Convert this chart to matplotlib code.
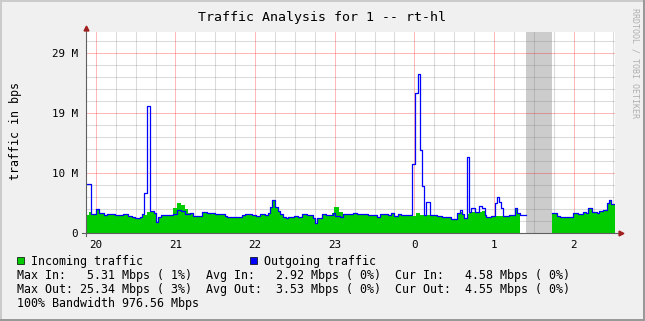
import numpy as np
import matplotlib
matplotlib.use('Agg')
import matplotlib.pyplot as plt
from matplotlib.lines import Line2D

# time axis in minutes relative to midnight (negative = previous evening)
t_start, t_end = -247.4, 151.2

hour_ticks = [-240, -180, -120, -60, 0, 60, 120]
hour_labels = ['20', '21', '22', '23', '0', '1', '2']

# y gridlines are at 10e6 / 20e6 / 30e6 bits, shown in Mbps (1024 base)
y_ticks = [0, 9.5367, 19.0735, 28.6102]
y_labels = ['0', '10 M', '19 M', '29 M']

# outgoing traffic (Mbps), step changes
out_t = [-248, -243.5, -239.5, -237.5, -233.5, -231.5, -225.5, -219.5, -215.5, -212.5,
         -210.5, -207, -205.5, -203.5, -201.5, -199.5, -196.5, -195, -193, -191,
         -181.5, -179, -175.5, -173, -169, -166.5, -160, -156.5, -150, -143,
         -141, -129.5, -127.5, -122, -119.5, -116, -112.5, -110.5, -108.5, -107.5,
         -105, -103, -101, -99, -97, -95.5, -91, -88, -84.5, -81,
         -76.5, -74.5, -73, -69.5, -66.5, -61.5, -59.5, -56, -54, -46,
         -43.5, -38.5, -35, -28.5, -26, -23.5, -20, -17.5, -15, -12.5,
         -10, -2, 0.5, 2.5, 4.5, 5.5, 7, 9, 11.5, 17,
         20.5, 28, 32.5, 34.5, 36, 37.5, 39.5, 41.5, 42.5, 45.5,
         49, 51, 53, 54, 58, 61, 62, 64, 65.5, 67,
         71, 76, 77.5, 79.5, 84.5, 104, 107.5, 109.5, 112.5, 119.5,
         121, 123.5, 127, 129.5, 131, 133.5, 137.5, 139.5, 142.5, 145,
         147, 148.5]
out_mbps = [7.74, 2.97, 3.76, 3.23, 2.86, 3.02, 2.86, 2.97, 2.75, 2.6,
            2.38, 2.6, 2.97, 6.41, 20.2, 3.45, 3.13, 1.8, 2.49, 2.86,
            3.02, 3.66, 3.45, 3.02, 3.23, 2.7, 3.29, 3.13, 2.97, 2.7,
            2.6, 2.91, 3.07, 2.81, 2.7, 3.07, 2.86, 3.23, 4.19, 5.25,
            4.19, 3.5, 2.97, 2.6, 2.33, 2.6, 2.7, 2.6, 2.97, 2.86,
            2.33, 1.64, 2.33, 2.97, 2.86, 3.13, 2.7, 2.6, 2.97, 3.13,
            2.97, 3.02, 2.91, 2.6, 2.97, 3.07, 2.86, 3.13, 2.7, 2.97,
            2.91, 10.92, 22.2, 25.34, 13.2, 7.52, 2.86, 4.88, 2.86, 2.75,
            2.6, 2.17, 3.13, 3.66, 2.97, 2.33, 12.1, 3.39, 3.92, 3.39,
            4.35, 3.92, 2.86, 2.49, 2.7, 4.72, 5.78, 4.98, 3.92, 2.7,
            2.86, 3.92, 3.23, 2.86, np.nan, 3.23, 2.7, 2.49, 2.6, 3.23,
            3.13, 3.02, 3.39, 3.13, 3.92, 3.39, 3.13, 3.55, 3.66, 4.72,
            5.25, 4.55]

# incoming traffic (Mbps), step changes
in_t = [-248, -245.5, -243.5, -239.5, -237.5, -233.5, -231.5, -225.5, -219.5, -215.5,
        -212.5, -210.5, -207, -205.5, -201.5, -196.5, -195, -193, -191, -181.5,
        -179, -175.5, -173, -170.5, -166.5, -160, -156.5, -150, -143, -141,
        -129.5, -127.5, -122, -119.5, -116, -112.5, -110.5, -108.5, -107.5, -105,
        -103, -101, -99, -97, -95.5, -91, -88, -84.5, -81, -76.5,
        -74.5, -73, -69.5, -66.5, -62, -60.5, -56.5, -54, -46, -43.5,
        -38.5, -35, -28.5, -26, -23.5, -20, -17.5, -15, -12.5, -10,
        -2, 1, 4.5, 17, 20.5, 28, 32.5, 34.5, 36, 37.5,
        39.5, 41.5, 42.5, 45.5, 49, 51, 53, 54, 58, 61,
        67, 71, 76, 77.5, 79.5, 84.5, 104, 107.5, 109.5, 112.5,
        119.5, 121, 123.5, 127, 129.5, 131, 133.5, 137.5, 139.5, 142.5,
        145, 147, 148.5]
in_mbps = [2.86, 3.39, 2.97, 3.66, 3.18, 2.86, 3.02, 2.86, 2.92, 2.7,
           2.55, 2.38, 2.55, 2.92, 3.29, 3.07, 1.8, 2.49, 2.86, 3.92,
           4.72, 4.45, 3.76, 3.18, 2.7, 3.23, 3.07, 2.92, 2.65, 2.55,
           2.86, 3.02, 2.75, 2.65, 3.02, 2.81, 3.18, 4.13, 5.2, 4.13,
           3.45, 2.92, 2.55, 2.3, 2.55, 2.65, 2.55, 2.92, 2.81, 2.3,
           1.64, 2.3, 2.92, 2.81, 3.1, 4.08, 3.39, 2.92, 3.07, 2.92,
           2.97, 2.86, 2.55, 2.92, 3.02, 2.81, 3.07, 2.65, 2.92, 2.86,
           2.7, 3.13, 2.86, 2.7, 2.55, 2.17, 3.02, 3.39, 2.92, 2.33,
           2.97, 3.18, 3.3, 3.18, 3.4, 3.5, 2.86, 2.49, 2.7, 2.75,
           2.7, 2.86, 3.92, 3.23, 2.86, np.nan, 3.18, 2.65, 2.45, 2.55,
           3.18, 3.07, 2.97, 3.34, 3.07, 3.87, 3.34, 3.07, 3.5, 3.6,
           4.66, 5.31, 4.58]

# unknown data period
gap_start, gap_end = 84.5, 104

legend_rows = [
    'Max In:   5.31 Mbps ( 1%)  Avg In:   2.92 Mbps ( 0%)  Cur In:   4.58 Mbps ( 0%)',
    'Max Out: 25.34 Mbps ( 3%)  Avg Out:  3.53 Mbps ( 0%)  Cur Out:  4.55 Mbps ( 0%)',
    '100% Bandwidth 976.56 Mbps',
]


def step_series(t, v):
    t = np.append(np.asarray(t, dtype=float), t_end)
    v = np.asarray(v, dtype=float)
    return t, np.append(v, v[-1])


W, H = 645, 321
plt.rcParams['font.family'] = ['DejaVu Sans Mono']
fig = plt.figure(figsize=(W / 100, H / 100), dpi=100, facecolor='#F0F0F0')

L, R, T, B = 86, 615, 32, 233
ax = fig.add_axes([L / W, 1 - B / H, (R - L) / W, (B - T) / H])
ax.set_facecolor('white')
ax.set_xlim(t_start, t_end)
ax.set_ylim(0, (B - T) * 9.5367 / 60)

# grid
minor_col = (0.5, 0.5, 0.5, 0.28)
major_col = (1.0, 0.0, 0.0, 0.28)
for m in np.arange(-240, t_end, 15):
    if m % 60 != 0:
        ax.axvline(m, color=minor_col, lw=0.75, zorder=1)
for y in np.arange(1, 17) * 1.90735:
    if abs(y / 9.5367 - round(y / 9.5367)) > 0.01:
        ax.axhline(y, color=minor_col, lw=0.75, zorder=1)
for m in hour_ticks:
    ax.axvline(m, color=major_col, lw=0.75, zorder=1)
for y in y_ticks[1:]:
    ax.axhline(y, color=major_col, lw=0.75, zorder=1)

ax.axvspan(gap_start, gap_end, color='#CCCCCC', lw=0, zorder=0.5)

ti, vi = step_series(in_t, in_mbps)
to, vo = step_series(out_t, out_mbps)
ax.fill_between(ti, vi, step='post', color='#00CC00', lw=0, zorder=2)
ax.step(to, vo, where='post', color='#0000FF', lw=0.9, zorder=3)

for s in ax.spines.values():
    s.set_visible(False)

ax.set_xticks(hour_ticks)
ax.set_xticklabels(hour_labels, fontsize=7.8)
ax.set_yticks(y_ticks)
ax.set_yticklabels(y_labels, fontsize=7.8)
ax.tick_params(length=0, pad=5)
ax.tick_params(axis='y', pad=6)

# axis lines with arrow heads
axis_col = '#606060'
ax.plot([-0.008, 1.012], [0, 0], transform=ax.transAxes, color=axis_col, lw=0.8,
        clip_on=False, zorder=4)
ax.plot([0, 0], [-0.015, 1.02], transform=ax.transAxes, color=axis_col, lw=0.8,
        clip_on=False, zorder=4)
ax.plot([1.012], [0], marker='>', ms=3.5, color='#A02020', transform=ax.transAxes,
        clip_on=False, zorder=5)
ax.plot([0], [1.022], marker='^', ms=3.5, color='#A02020', transform=ax.transAxes,
        clip_on=False, zorder=5)

# texts
fig.text(0.5, 1 - 21.5 / H, 'Traffic Analysis for 1 -- rt-hl', ha='center',
         va='baseline', fontsize=9.5)
fig.text(15.5 / W, 1 - 130.5 / H, 'traffic in bps', rotation=90, ha='center',
         va='center', fontsize=8.4)
fig.text(634.5 / W, 1 - 62.5 / H, 'RRDTOOL / TOBI OETIKER', rotation=270,
         ha='center', va='center', fontsize=6, color='#B0B0B0')

# legend
sq = 7
fig.patches.append(plt.Rectangle((17 / W, 1 - 264 / H), sq / W, sq / H, transform=fig.transFigure,
                                 facecolor='#00CC00', edgecolor='black', lw=0.5))
fig.text(31 / W, 1 - 264.5 / H, 'Incoming traffic', va='baseline', fontsize=8.4)
fig.patches.append(plt.Rectangle((249.5 / W, 1 - 264 / H), sq / W, sq / H, transform=fig.transFigure,
                                 facecolor='#0000FF', edgecolor='black', lw=0.5))
fig.text(263.5 / W, 1 - 264.5 / H, 'Outgoing traffic', va='baseline', fontsize=8.4)
for i, row in enumerate(legend_rows):
    fig.text(17 / W, 1 - (278.5 + 14.2 * i) / H, row, va='baseline', fontsize=8.4)

# 3d frame
fig.add_artist(Line2D([0, 1], [1 - 1 / H, 1 - 1 / H], color='#CBCBCB', lw=1.44))
fig.add_artist(Line2D([1 / W, 1 / W], [0, 1], color='#CBCBCB', lw=1.44))
fig.add_artist(Line2D([0, 1], [1 / H, 1 / H], color='#999999', lw=1.44))
fig.add_artist(Line2D([1 - 1 / W, 1 - 1 / W], [0, 1], color='#999999', lw=1.44))

fig.savefig('out.png', dpi=100, facecolor=fig.get_facecolor())
